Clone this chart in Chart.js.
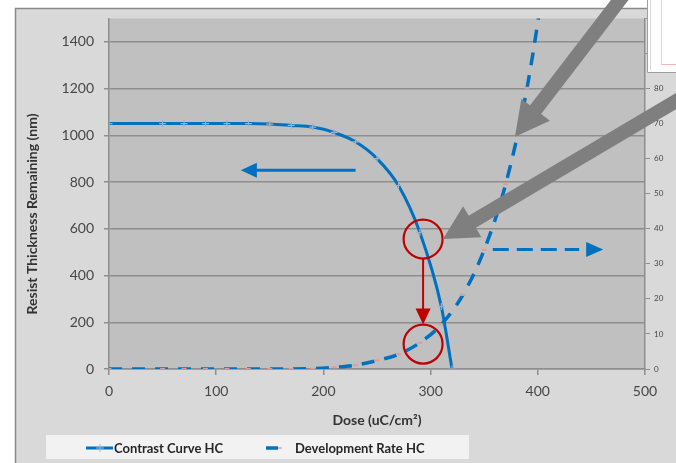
<!DOCTYPE html>
<html>
<head>
<meta charset="utf-8">
<script src="https://cdn.jsdelivr.net/npm/chart.js@4.4.1/dist/chart.umd.min.js"></script>
<style>
  html, body { margin: 0; padding: 0; background: #ffffff; overflow: hidden; }
  #wrap { width: 676px; height: 463px; }
</style>
</head>
<body>
<div id="wrap"><canvas id="c" width="676" height="463"></canvas></div>
<script>
// Contrast curve: remaining resist thickness (nm) vs. dose (uC/cm²)
const contrastDose = [0, 50, 70, 90, 110, 130, 150, 170, 190, 210, 230, 250, 270, 290, 310, 320];
const thicknessNm  = [1050, 1050, 1050, 1050, 1050, 1050, 1048, 1042, 1035, 1012, 972, 900, 785, 584, 267, 0];

// Development rate vs. dose (secondary axis)
const rateDose = [0, 50, 70, 90, 110, 130, 150, 170, 190, 210, 230, 250, 270, 290, 310, 330, 350, 370, 390, 410];
const devRate  = [0, 0, 0, 0, 0, 0, 0, 0, 0.1, 0.5, 1.1, 2.4, 4.2, 7.5, 12.7, 21.1, 34, 52.7, 80.2, 119];

const seriesNames = ['Contrast Curve HC', 'Development Rate HC'];
const xTitle = 'Dose (uC/cm\u00B2)';
const yTitle = 'Resist Thickness Remaining (nm)';

// Axis ranges and steps
const doseRange = [0, 500, 100];
const thicknessRange = [0, 1500, 200];
const rateRange = [0, 100, 10];

const BLUE = '#0070c0';
const FONT = 'Lato, "Open Sans", "Liberation Sans", sans-serif';

// Callouts, in data units (x: dose; y: left or right axis)
const focusDose = 293;
const circleA = { x: focusDose, y: 556, axis: 'y' };
const circleB = { x: focusDose, y: 7.1, axis: 'y1' };
const leftArrow = { from: [230, 850], to: [123, 850], axis: 'y' };
const rightArrow = { from: [358, 34.1], to: [461, 34.1], axis: 'y1' };
const greyArrows = [
  { tail: [490, 1660], tip: [378.7, 994] },
  { tail: [551, 1206], tip: [311.6, 556] }
];

function pt(chart, x, y, axis) {
  return [chart.scales.x.getPixelForValue(x), chart.scales[axis].getPixelForValue(y)];
}

function arrowHead(ctx, tip, dir, len, half, color) {
  const [ux, uy] = dir;
  const bx = tip[0] - ux * len, by = tip[1] - uy * len;
  ctx.fillStyle = color;
  ctx.beginPath();
  ctx.moveTo(tip[0], tip[1]);
  ctx.lineTo(bx - uy * half, by + ux * half);
  ctx.lineTo(bx + uy * half, by - ux * half);
  ctx.closePath();
  ctx.fill();
}

function unit(a, b) {
  const dx = b[0] - a[0], dy = b[1] - a[1];
  const d = Math.hypot(dx, dy);
  return [dx / d, dy / d];
}

const framePlugin = {
  id: 'frame',
  beforeDraw(chart) {
    const { ctx, chartArea: a } = chart;
    ctx.save();
    ctx.fillStyle = '#ffffff';
    ctx.fillRect(0, 0, chart.width, chart.height);
    // chart area panel
    ctx.fillStyle = '#d9d9d9';
    ctx.fillRect(15, 8, chart.width - 15, chart.height - 8);
    ctx.strokeStyle = '#8a8a8a';
    ctx.lineWidth = 1.5;
    ctx.beginPath();
    ctx.moveTo(15.5, chart.height);
    ctx.lineTo(15.5, 8.5);
    ctx.lineTo(chart.width, 8.5);
    ctx.stroke();
    // plot area
    ctx.fillStyle = '#c0c0c0';
    ctx.fillRect(a.left, a.top, a.right - a.left, a.bottom - a.top);
    ctx.restore();
  }
};

const overlayPlugin = {
  id: 'overlay',
  afterDraw(chart) {
    const { ctx } = chart;
    ctx.save();

    // blue arrow pointing to the thickness axis
    let p0 = pt(chart, leftArrow.from[0], leftArrow.from[1], leftArrow.axis);
    let p1 = pt(chart, leftArrow.to[0], leftArrow.to[1], leftArrow.axis);
    let u = unit(p0, p1);
    ctx.strokeStyle = BLUE; ctx.lineWidth = 3;
    ctx.beginPath(); ctx.moveTo(p0[0], p0[1]); ctx.lineTo(p1[0] - u[0] * 14, p1[1] - u[1] * 14); ctx.stroke();
    arrowHead(ctx, p1, u, 16, 7.5, BLUE);

    // dashed blue arrow pointing to the rate axis
    p0 = pt(chart, rightArrow.from[0], rightArrow.from[1], rightArrow.axis);
    p1 = pt(chart, rightArrow.to[0], rightArrow.to[1], rightArrow.axis);
    u = unit(p0, p1);
    ctx.setLineDash([16, 8]);
    ctx.beginPath(); ctx.moveTo(p0[0], p0[1]); ctx.lineTo(p1[0] - u[0] * 24, p1[1] - u[1] * 24); ctx.stroke();
    ctx.setLineDash([]);
    arrowHead(ctx, p1, u, 17, 7.5, BLUE);

    // red circles and the arrow between them
    const RED = '#c00000';
    const ca = pt(chart, circleA.x, circleA.y, circleA.axis);
    const cb = pt(chart, circleB.x, circleB.y, circleB.axis);
    const r = 19.5;
    ctx.strokeStyle = RED; ctx.lineWidth = 2.2;
    [ca, cb].forEach(c => { ctx.beginPath(); ctx.arc(c[0], c[1], r, 0, Math.PI * 2); ctx.stroke(); });
    ctx.lineWidth = 2;
    ctx.beginPath(); ctx.moveTo(ca[0], ca[1] + r); ctx.lineTo(cb[0], cb[1] - r - 14); ctx.stroke();
    arrowHead(ctx, [cb[0], cb[1] - r], [0, 1], 16, 7.5, RED);

    // grey callout arrows
    greyArrows.forEach(g => {
      const t = pt(chart, g.tail[0], g.tail[1], 'y');
      const h = pt(chart, g.tip[0], g.tip[1], 'y');
      const d = unit(t, h);
      ctx.strokeStyle = '#7f7f7f'; ctx.lineWidth = 14; ctx.lineCap = 'butt';
      ctx.beginPath(); ctx.moveTo(t[0], t[1]); ctx.lineTo(h[0] - d[0] * 30, h[1] - d[1] * 30); ctx.stroke();
      arrowHead(ctx, h, d, 34, 18, '#7f7f7f');
    });

    // inset panel in the upper right corner
    ctx.fillStyle = '#ffffff';
    ctx.fillRect(647, 0, 29, 73);
    ctx.strokeStyle = '#a0a0a0'; ctx.lineWidth = 1;
    ctx.beginPath(); ctx.moveTo(647.5, 0); ctx.lineTo(647.5, 72.5); ctx.lineTo(676, 72.5); ctx.stroke();
    ctx.strokeStyle = '#dadada';
    ctx.beginPath(); ctx.moveTo(650.5, 0); ctx.lineTo(650.5, 70); ctx.stroke();
    ctx.beginPath(); ctx.moveTo(661.5, 0); ctx.lineTo(661.5, 64); ctx.stroke();
    ctx.strokeStyle = '#f2b4b4';
    ctx.beginPath(); ctx.moveTo(661, 64.5); ctx.lineTo(676, 64.5); ctx.stroke();

    // axis titles
    ctx.fillStyle = '#333333';
    ctx.font = 'bold 14px ' + FONT;
    ctx.textAlign = 'center'; ctx.textBaseline = 'middle';
    ctx.fillText(xTitle, 377, 420);
    ctx.save();
    ctx.translate(32, 214); ctx.rotate(-Math.PI / 2);
    ctx.fillText(yTitle, 0, 0);
    ctx.restore();

    // legend
    ctx.fillStyle = '#f2f2f2';
    ctx.fillRect(46, 435, 423, 24);
    const ly = 448;
    ctx.strokeStyle = BLUE; ctx.lineWidth = 3;
    ctx.beginPath(); ctx.moveTo(86, ly); ctx.lineTo(113, ly); ctx.stroke();
    ctx.strokeStyle = '#a9b4c8'; ctx.lineWidth = 1;
    ctx.beginPath(); ctx.moveTo(96, ly); ctx.lineTo(104, ly); ctx.moveTo(100, ly - 4); ctx.lineTo(100, ly + 4); ctx.stroke();
    ctx.strokeStyle = BLUE; ctx.lineWidth = 3.5;
    ctx.beginPath(); ctx.moveTo(266, ly); ctx.lineTo(278, ly); ctx.stroke();
    ctx.strokeStyle = '#e8a0a0'; ctx.lineWidth = 1.5;
    ctx.beginPath(); ctx.moveTo(278, ly); ctx.lineTo(282, ly); ctx.stroke();
    ctx.fillStyle = '#262626';
    ctx.font = 'bold 13px ' + FONT;
    ctx.textAlign = 'left';
    ctx.fillText(seriesNames[0], 114, ly + 1);
    ctx.fillText(seriesNames[1], 295, ly + 1);

    ctx.restore();
  }
};

const tickColor = '#474747';
const gridColor = '#8e8e8e';
const plainNumber = v => String(v);

new Chart(document.getElementById('c'), {
  type: 'line',
  data: {
    datasets: [
      {
        label: seriesNames[0],
        data: contrastDose.map((d, i) => ({ x: d, y: thicknessNm[i] })),
        yAxisID: 'y',
        borderColor: BLUE,
        borderWidth: 3,
        cubicInterpolationMode: 'monotone',
        pointStyle: 'cross',
        pointRadius: 3.5,
        pointBorderWidth: 1.2,
        pointBorderColor: '#a3aec4',
        pointBackgroundColor: '#a3aec4',
        order: 1
      },
      {
        label: seriesNames[1],
        data: rateDose.map((d, i) => ({ x: d, y: devRate[i] })),
        yAxisID: 'y1',
        borderColor: BLUE,
        borderWidth: 3.5,
        borderDash: [13, 10],
        cubicInterpolationMode: 'monotone',
        pointStyle: 'line',
        pointRadius: 2.5,
        pointBorderWidth: 2,
        pointBorderColor: '#e39a9a',
        pointBackgroundColor: '#e39a9a',
        order: 2
      }
    ]
  },
  options: {
    responsive: false,
    animation: false,
    devicePixelRatio: 1,
    layout: { padding: { top: 16, left: 0, right: 0, bottom: 0 } },
    plugins: { legend: { display: false }, tooltip: { enabled: false } },
    scales: {
      x: {
        type: 'linear',
        min: doseRange[0], max: doseRange[1],
        ticks: { stepSize: doseRange[2], color: tickColor, font: { family: FONT, size: 14 }, padding: 8, maxRotation: 0, callback: plainNumber },
        grid: { drawOnChartArea: false, drawTicks: true, tickLength: 6, color: gridColor, lineWidth: 1.5 },
        border: { color: gridColor, width: 1.5 },
        afterFit: s => { s.height = 94; }
      },
      y: {
        position: 'left',
        min: thicknessRange[0], max: thicknessRange[1],
        ticks: { stepSize: thicknessRange[2], color: tickColor, font: { family: FONT, size: 14 }, padding: 10, callback: plainNumber },
        afterBuildTicks: s => { s.ticks = s.ticks.filter(t => t.value <= 1400); },
        grid: { color: gridColor, lineWidth: 1.5, tickLength: 5 },
        border: { color: gridColor, width: 1.5 },
        afterFit: s => { s.width = 109; }
      },
      y1: {
        position: 'right',
        min: rateRange[0], max: rateRange[1],
        ticks: { stepSize: rateRange[2], color: tickColor, font: { family: FONT, size: 8 }, padding: 4, callback: plainNumber },
        grid: { drawOnChartArea: false, color: gridColor, lineWidth: 1, tickLength: 5 },
        border: { color: gridColor, width: 1.5 },
        afterFit: s => { s.width = 31; }
      }
    }
  },
  plugins: [framePlugin, overlayPlugin]
});
</script>
</body>
</html>
